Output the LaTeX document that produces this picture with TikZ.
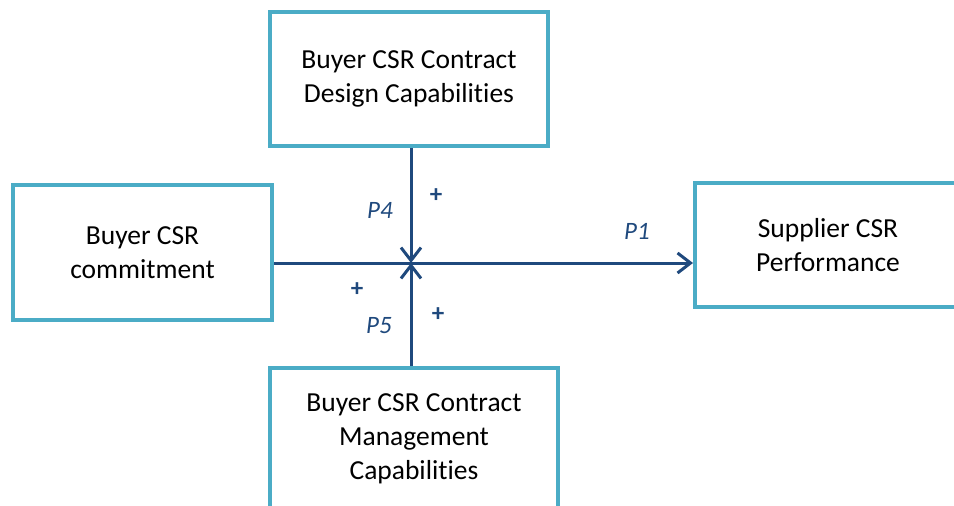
\documentclass[tikz,border=0pt]{standalone}
\usepackage{fontspec}
\setmainfont{Carlito}[RawFeature=-liga]
\usetikzlibrary{arrows.meta}
\definecolor{boxedge}{HTML}{4BACC6}
\definecolor{linkblue}{HTML}{1F497D}
\begin{document}
\begin{tikzpicture}[x=1pt,y=-1pt,
  construct/.style={draw=boxedge, line width=4pt, fill=white, align=center,
    font=\fontsize{27.5}{34}\selectfont, inner sep=0pt},
  link/.style={draw=linkblue, line width=3pt,
    -{Straight Barb[length=13pt,width=20pt,line width=3pt]}},
  plabel/.style={text=linkblue, font=\fontsize{25}{28}\selectfont\itshape},
  sign/.style={text=linkblue, font=\fontsize{25}{28}\selectfont\bfseries}]
\useasboundingbox (0,0) rectangle (954,506);
\clip (0,0) rectangle (954,506);

% constructs
\node[construct, minimum width=278pt, minimum height=134pt] (design) at (409,79)
  {Buyer CSR Contract\\Design Capabilities};
\node[construct, minimum width=259pt, minimum height=135pt] (commit) at (142.5,252.5)
  {Buyer CSR\\commitment};
\node[construct, minimum width=266pt, minimum height=124pt] (perf) at (828,245)
  {Supplier CSR\\Performance};
\node[construct, minimum width=288pt, minimum height=142pt] (manage) at (414,439)
  {Buyer CSR Contract\\Management\\Capabilities};

% crossing point of the moderating paths
\coordinate (x) at (411,263);

% main effect and moderators
\draw[link] (x -| commit.east) -- (x -| perf.west);
\draw[link] (x |- design.south) -- (x);
\draw[link] (x |- manage.north) -- (x);

% proposition labels
\node[plabel] (p4) at (380,210) {P4};
\node[plabel] (p1) at (637,231) {P1};
\node[plabel] (p5) at (379,326) {P5};
\node[sign] (s4) at (436,196) {+};
\node[sign] (s1) at (357,290) {+};
\node[sign] (s5) at (438,315) {+};
\end{tikzpicture}
\end{document}
